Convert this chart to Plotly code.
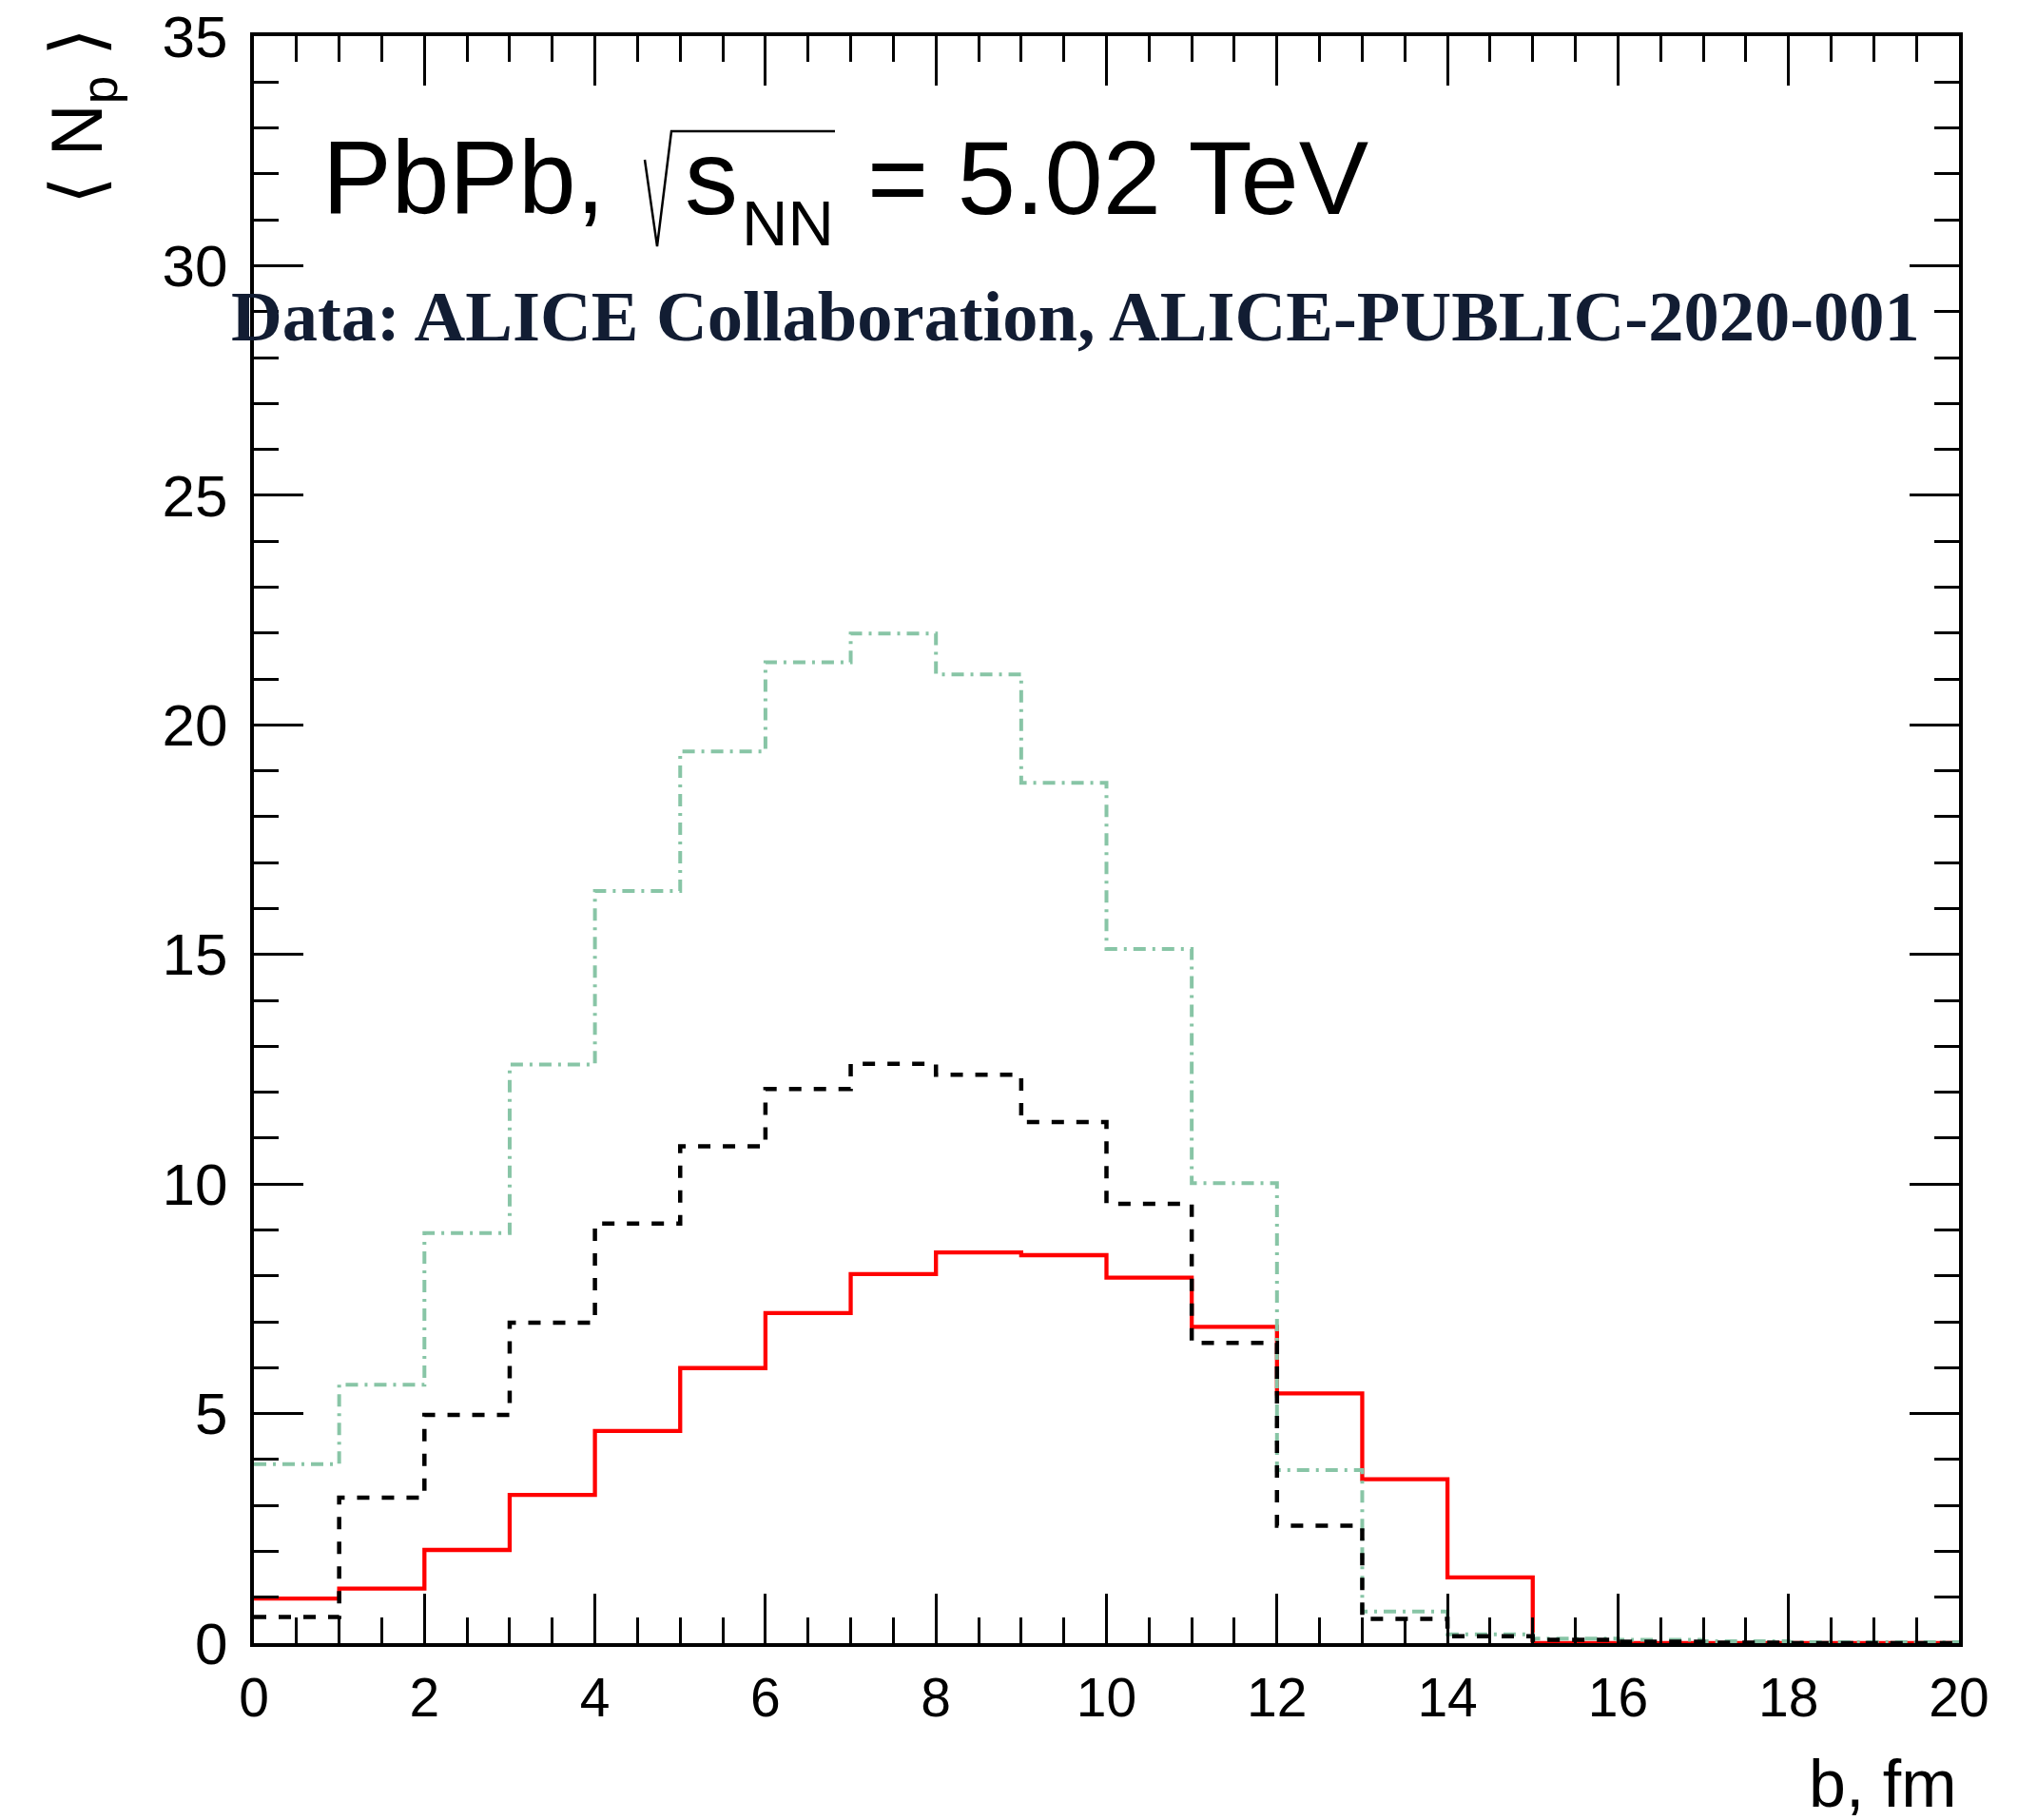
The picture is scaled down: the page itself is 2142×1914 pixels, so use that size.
import plotly.graph_objects as go

# ---- data ----
b_edges = list(range(0, 21))  # bin edges 0..20 fm
red_vals = [0.97, 1.19, 2.03, 3.23, 4.62, 5.99, 7.19, 8.04, 8.51, 8.45,
            7.96, 6.89, 5.44, 3.57, 1.43, 0.0, 0.0, 0.0, 0.0, 0.0]
black_vals = [0.57, 3.17, 4.97, 6.98, 9.14, 10.82, 12.07, 12.62, 12.38, 11.35,
              9.57, 6.54, 2.56, 0.53, 0.15, 0.07, 0.03, 0.01, 0.0, 0.0]
green_vals = [3.90, 5.63, 8.93, 12.60, 16.38, 19.42, 21.36, 21.99, 21.10, 18.74,
              15.12, 10.02, 3.77, 0.69, 0.19, 0.10, 0.07, 0.04, 0.02, 0.02]

x_ticks = [0, 2, 4, 6, 8, 10, 12, 14, 16, 18, 20]
y_ticks = [0, 5, 10, 15, 20, 25, 30, 35]

W, H = 2142, 1914
ML, MR, MT, MB = 267, 82, 38, 186
PW, PH = W - ML - MR, H - MT - MB


def px(X):
    return (X - ML) / PW


def py(Y):
    return (H - MB - Y) / PH


def step(vals):
    return vals + [vals[-1]]


fig = go.Figure()
fig.add_trace(go.Scatter(x=b_edges, y=step(red_vals), mode="lines", line_shape="hv",
                         line=dict(color="#ff0000", width=4.3),
                         hoverinfo="skip", showlegend=False))
fig.add_trace(go.Scatter(x=b_edges, y=step(green_vals), mode="lines", line_shape="hv",
                         line=dict(color="#88c5a6", width=4, dash="13px,7px,3px,7px"),
                         hoverinfo="skip", showlegend=False))
fig.add_trace(go.Scatter(x=b_edges, y=step(black_vals), mode="lines", line_shape="hv",
                         line=dict(color="#000000", width=4.5, dash="13px,13px"),
                         hoverinfo="skip", showlegend=False))

axis_common = dict(showgrid=False, zeroline=False, showline=True, linecolor="black",
                   linewidth=4.3, ticks="inside", tickcolor="black", tickwidth=3.3,
                   ticklen=52, mirror="ticks")

fig.update_xaxes(range=[0, 20], tickvals=x_ticks, ticktext=[str(v) for v in x_ticks],
                 tickfont=dict(family="Liberation Sans, Arial, sans-serif", size=57, color="black"),
                 minor=dict(dtick=0.5, tick0=0, ticks="inside", ticklen=27, tickwidth=3.3,
                            tickcolor="black", showgrid=False),
                 ticklabelstandoff=4,
                 **axis_common)
fig.update_yaxes(range=[0, 35], tickvals=y_ticks, ticktext=[str(v) for v in y_ticks],
                 tickfont=dict(family="Liberation Sans, Arial, sans-serif", size=62, color="black"),
                 minor=dict(dtick=1, tick0=0, ticks="inside", ticklen=26, tickwidth=3.3,
                            tickcolor="black", showgrid=False),
                 ticklabelstandoff=11,
                 **axis_common)

sans = "Liberation Sans, Arial, sans-serif"
ann = []
# PbPb, sqrt(s_NN) = 5.02 TeV
ann.append(dict(text="PbPb,", x=px(337), y=py(186), xref="paper", yref="paper",
                xanchor="left", yanchor="middle", showarrow=False,
                font=dict(family=sans, size=109, color="black")))
ann.append(dict(text="s", x=px(718), y=py(186), xref="paper", yref="paper",
                xanchor="left", yanchor="middle", showarrow=False,
                font=dict(family=sans, size=112, color="black")))
ann.append(dict(text="NN", x=px(778), y=py(234), xref="paper", yref="paper",
                xanchor="left", yanchor="middle", showarrow=False,
                font=dict(family=sans, size=67, color="black")))
ann.append(dict(text="= 5.02 TeV", x=px(910), y=py(186), xref="paper", yref="paper",
                xanchor="left", yanchor="middle", showarrow=False,
                font=dict(family=sans, size=110, color="black")))
# Data credit
ann.append(dict(text="<b>Data: ALICE Collaboration, ALICE-PUBLIC-2020-001</b>",
                x=px(1131), y=py(333), xref="paper", yref="paper",
                xanchor="center", yanchor="middle", showarrow=False,
                font=dict(family="Liberation Serif, Times New Roman, serif", size=74.5, color="#121d33")))
# y title
ann.append(dict(text="⟨ N<sub>p</sub> ⟩", x=px(86), y=py(122), xref="paper", yref="paper",
                xanchor="center", yanchor="middle", showarrow=False, textangle=-90,
                font=dict(family="Liberation Sans, DejaVu Sans, sans-serif", size=76, color="black")))
# x title
ann.append(dict(text="b, fm", x=px(2060), y=py(1876), xref="paper", yref="paper",
                xanchor="right", yanchor="middle", showarrow=False,
                font=dict(family=sans, size=70, color="black")))

# radical sign for sqrt
rad = [(678, 168), (691, 259), (706, 138), (878, 138)]
path = "M " + " L ".join(f"{px(X)},{py(Y)}" for X, Y in rad)
shapes = [dict(type="path", path=path, xref="paper", yref="paper",
               line=dict(color="black", width=2.5))]

fig.update_layout(width=W, height=H, margin=dict(l=ML, r=MR, t=MT, b=MB, autoexpand=False),
                  paper_bgcolor="white", plot_bgcolor="white",
                  annotations=ann, shapes=shapes, showlegend=False)

fig.write_html("out.html")
